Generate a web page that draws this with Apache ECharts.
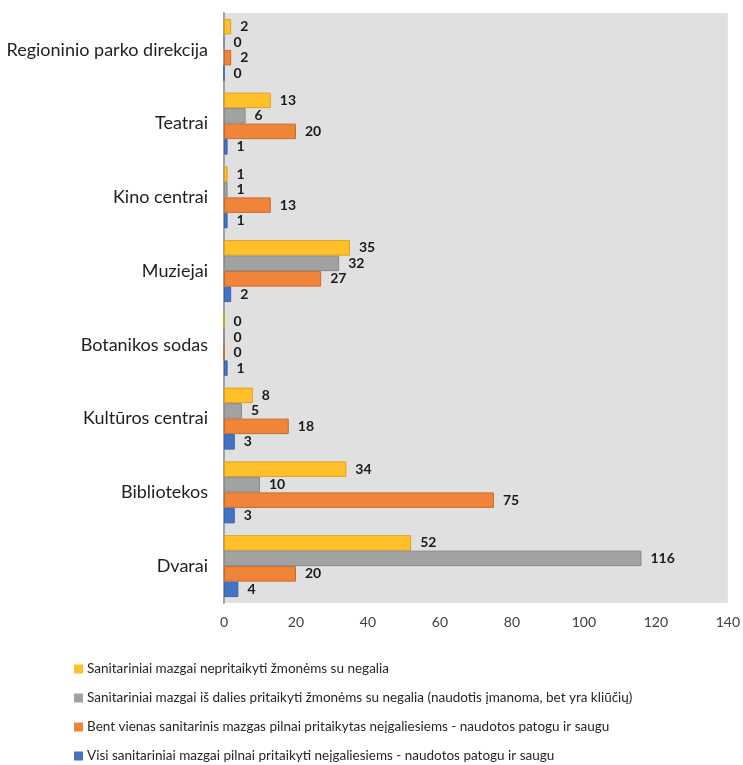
<!DOCTYPE html>
<html><head><meta charset="utf-8">
<script src="https://cdn.jsdelivr.net/npm/echarts@6/dist/echarts.min.js"></script>
<style>html,body{margin:0;padding:0;background:#fff}#c{width:743px;height:765px}</style>
</head><body><div id="c"></div>
<script>
const categories = ["Dvarai","Bibliotekos","Kultūros centrai","Botanikos sodas","Muziejai","Kino centrai","Teatrai","Regioninio parko direkcija"];
const seriesNames = [
  "Sanitariniai mazgai nepritaikyti žmonėms su negalia",
  "Sanitariniai mazgai iš dalies pritaikyti žmonėms su negalia (naudotis įmanoma, bet yra kliūčių)",
  "Bent vienas sanitarinis mazgas pilnai pritaikytas neįgaliesiems - naudotos patogu ir saugu",
  "Visi sanitariniai mazgai pilnai pritaikyti neįgaliesiems - naudotos patogu ir saugu"
];
const yellowVals = [52, 34, 8, 0, 35, 1, 13, 2];
const grayVals   = [116, 10, 5, 0, 32, 1, 6, 0];
const orangeVals = [20, 75, 18, 0, 27, 13, 20, 2];
const blueVals   = [4, 3, 3, 1, 2, 1, 1, 0];
const xTicks = [0, 20, 40, 60, 80, 100, 120, 140];

const colors = ["#FFC02A", "#A2A2A2", "#F08439", "#4472C4"];
const borders = ["#d9a31a", "#8a8a8a", "#c96a29", "#3a64ad"];
const vals = [yellowVals, grayVals, orangeVals, blueVals];
const font = "Lato, 'Open Sans', sans-serif";

const chart = echarts.init(document.getElementById('c'));
chart.setOption({
  animation: false,
  textStyle: {fontFamily: font},
  grid: {left: 224, right: 13, top: 13, bottom: 162, containLabel: false, show: true, backgroundColor: '#e0e0e0', borderWidth: 0},
  xAxis: {
    type: 'value', min: xTicks[0], max: xTicks[xTicks.length-1], interval: 20,
    splitLine: {show: false}, axisLine: {show: false}, axisTick: {show: false},
    axisLabel: {fontSize: 14, color: '#404040', margin: 12, fontFamily: font}
  },
  yAxis: {
    type: 'category', data: categories, inverse: false,
    axisLine: {show: true, lineStyle: {color: '#a0a0a0', width: 2}}, axisTick: {show: false},
    axisLabel: {fontSize: 18, color: '#1f1f1f', margin: 16, fontFamily: font}
  },
  legend: {
    orient: 'vertical', left: 69, top: 657, height: 110, itemGap: 15, itemWidth: 9, itemHeight: 9,
    icon: 'rect', data: seriesNames,
    textStyle: {fontSize: 13.5, color: '#262626', fontFamily: font, padding: [0,0,0,-1]}, itemStyle: {borderWidth: 0}
  },
  series: seriesNames.map((n, i) => ({
    name: n, type: 'bar', data: vals[i], barGap: '0%', barCategoryGap: '16%',
    itemStyle: {color: colors[i], borderColor: borders[i], borderWidth: 1},
    label: {show: true, position: 'right', distance: 9, fontSize: 14, fontWeight: 'bold', color: '#1a1a1a', fontFamily: font}
  }))
});
</script></body></html>
